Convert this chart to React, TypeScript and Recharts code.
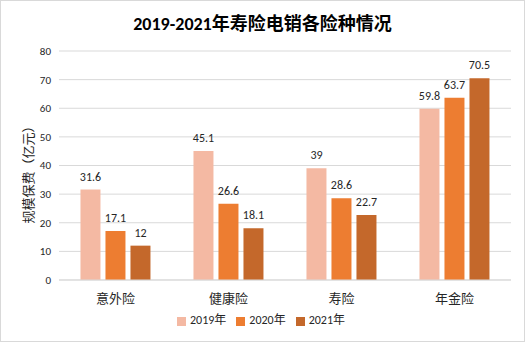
import { Bar, BarChart, CartesianGrid, LabelList, Legend, XAxis, YAxis } from "recharts";

const categories = ["意外险", "健康险", "寿险", "年金险"];
const v2019 = [31.6, 45.1, 39, 59.8];
const v2020 = [17.1, 26.6, 28.6, 63.7];
const v2021 = [12, 18.1, 22.7, 70.5];
const yTicks = [0, 10, 20, 30, 40, 50, 60, 70, 80];

const data = categories.map((name, i) => ({
  name,
  y2019: v2019[i],
  y2020: v2020[i],
  y2021: v2021[i],
}));

const font = "Carlito, 'Noto Sans CJK SC', 'Noto Sans', sans-serif";
const labelStyle = { fill: "#262626", fontSize: 12, fontFamily: font };

export default function App() {
  return (
    <div
      style={{
        position: "absolute",
        left: 0,
        top: 0,
        width: 523,
        height: 340,
        border: "1px solid #d9d9d9",
        background: "#fff",
        fontFamily: font,
      }}
    >
      <div
        style={{
          position: "absolute",
          top: 8,
          width: "100%",
          textAlign: "center",
          fontSize: 18,
          fontWeight: "bold",
          color: "#000",
        }}
      >
        2019-2021年寿险电销各险种情况
      </div>
      <BarChart
        width={523}
        height={340}
        data={data}
        margin={{ top: 50, right: 13, bottom: 0, left: 20 }}
        barGap={5}
        barCategoryGap="19%"
      >
        <CartesianGrid vertical={false} stroke="#d9d9d9" />
        <XAxis
          dataKey="name"
          height={24}
          axisLine={{ stroke: "#d9d9d9" }}
          tickLine={false}
          tick={{ fill: "#262626", fontSize: 13, fontFamily: font }}
          tickMargin={8}
        />
        <YAxis
          width={38}
          domain={[0, 80]}
          ticks={yTicks}
          axisLine={false}
          tickLine={false}
          tick={{ fill: "#262626", fontSize: 11, fontFamily: font }}
          label={{
            value: "规模保费（亿元）",
            angle: -90,
            position: "insideLeft",
            dx: 2,
            dy: 58,
            style: { fill: "#262626", fontSize: 13, fontFamily: font },
          }}
        />
        <Legend
          verticalAlign="bottom"
          height={31}
          iconType="square"
          iconSize={9}
          wrapperStyle={{ fontSize: 12, color: "#262626", fontFamily: font, paddingTop: 6 }}
          formatter={(v) => <span style={{ color: "#262626" }}>{v}</span>}
        />
        <Bar dataKey="y2019" name="2019年" fill="#F4B9A3" isAnimationActive={false}>
          <LabelList dataKey="y2019" position="top" offset={9} style={labelStyle} />
        </Bar>
        <Bar dataKey="y2020" name="2020年" fill="#ED7D31" isAnimationActive={false}>
          <LabelList dataKey="y2020" position="top" offset={9} style={labelStyle} />
        </Bar>
        <Bar dataKey="y2021" name="2021年" fill="#C4682B" isAnimationActive={false}>
          <LabelList dataKey="y2021" position="top" offset={9} style={labelStyle} />
        </Bar>
      </BarChart>
    </div>
  );
}
